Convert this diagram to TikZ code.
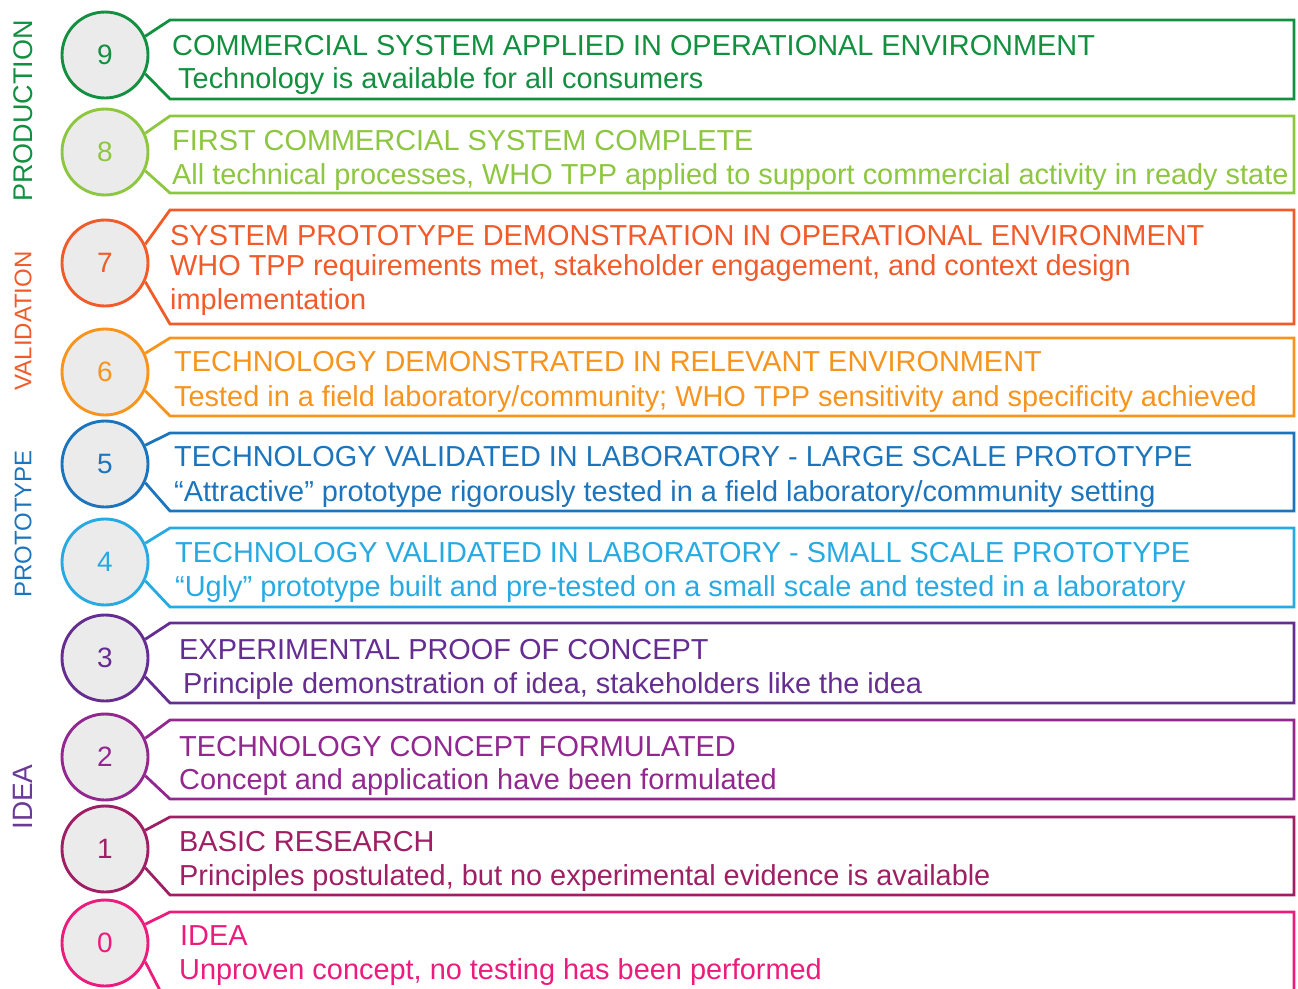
\documentclass[tikz,border=0pt]{standalone}
\usepackage{fontspec}
\setmainfont{Liberation Sans}
\definecolor{c9}{HTML}{12903F}
\definecolor{c8}{HTML}{8DC63F}
\definecolor{c7}{HTML}{F15A29}
\definecolor{c6}{HTML}{F7941D}
\definecolor{c5}{HTML}{1C75BC}
\definecolor{c4}{HTML}{27AAE1}
\definecolor{c3}{HTML}{662D91}
\definecolor{c2}{HTML}{92278F}
\definecolor{c1}{HTML}{9E1F63}
\definecolor{c0}{HTML}{EC1C7C}
\definecolor{cidea}{HTML}{6B3A96}
\definecolor{circfill}{HTML}{EBEBEB}
\begin{document}
\begin{tikzpicture}[x=1pt,y=-1pt,
  lvl/.style={circle, draw=#1, fill=circfill, line width=2.9pt, minimum size=86pt, inner sep=0pt, text=#1, font=\fontsize{28}{30}\selectfont},
  frame/.style={draw=#1, line width=2.8pt, line join=miter},
  txt/.style={anchor=base west, inner sep=0pt, text=#1, font=\fontsize{28.9}{34}\selectfont},
  side/.style={rotate=90, inner sep=0pt, text=#1}]
\useasboundingbox (0,0) rectangle (1298,988);

% circles
\node[lvl=c9] (n9) at (105,55) {9};
\node[lvl=c8] (n8) at (105,152) {8};
\node[lvl=c7] (n7) at (105,263) {7};
\node[lvl=c6] (n6) at (105,372) {6};
\node[lvl=c5] (n5) at (105,464) {5};
\node[lvl=c4] (n4) at (105,562) {4};
\node[lvl=c3] (n3) at (105,658) {3};
\node[lvl=c2] (n2) at (105,757) {2};
\node[lvl=c1] (n1) at (105,849) {1};
\node[lvl=c0] (n0) at (105,943) {0};

% frames
\draw[frame=c9] (n9.25) -- (170,20) -- (1294,20) -- (1294,99) -- (170,99) -- (n9.-25);
\draw[frame=c8] (n8.25) -- (170,116) -- (1294,116) -- (1294,193) -- (170,193) -- (n8.-25);
\draw[frame=c7] (n7.25) -- (170,210) -- (1294,210) -- (1294,324) -- (170,324) -- (n7.-25);
\draw[frame=c6] (n6.25) -- (170,338) -- (1294,338) -- (1294,416) -- (170,416) -- (n6.-25);
\draw[frame=c5] (n5.25) -- (170,433) -- (1294,433) -- (1294,511) -- (170,511) -- (n5.-25);
\draw[frame=c4] (n4.25) -- (170,528) -- (1294,528) -- (1294,607) -- (170,607) -- (n4.-25);
\draw[frame=c3] (n3.25) -- (170,623) -- (1294,623) -- (1294,703) -- (170,703) -- (n3.-25);
\draw[frame=c2] (n2.25) -- (170,720) -- (1294,720) -- (1294,799) -- (170,799) -- (n2.-25);
\draw[frame=c1] (n1.25) -- (170,817) -- (1294,817) -- (1294,895) -- (170,895) -- (n1.-25);
\draw[frame=c0] (n0.25) -- (170,912) -- (1294,912) -- (1294,1010) -- (170,1010) -- (n0.-25);

% texts
\node[txt=c9] (t9a) at (172,55) {COMMERCIAL SYSTEM APPLIED IN OPERATIONAL ENVIRONMENT};
\node[txt=c9] (t9b) at (178,88) {Technology is available for all consumers};
\node[txt=c8] (t8a) at (172,150) {FIRST COMMERCIAL SYSTEM COMPLETE};
\node[txt=c8] (t8b) at (172,184) {All technical processes, WHO TPP applied to support commercial activity in ready state};
\node[txt=c7] (t7a) at (170,245) {SYSTEM PROTOTYPE DEMONSTRATION IN OPERATIONAL ENVIRONMENT};
\node[txt=c7] (t7b) at (170,275) {WHO TPP requirements met, stakeholder engagement, and context design};
\node[txt=c7] (t7c) at (170,309) {implementation};
\node[txt=c6] (t6a) at (174,371) {TECHNOLOGY DEMONSTRATED IN RELEVANT ENVIRONMENT};
\node[txt=c6] (t6b) at (174,406) {Tested in a field laboratory/community; WHO TPP sensitivity and specificity achieved};
\node[txt=c5] (t5a) at (174,466) {TECHNOLOGY VALIDATED IN LABORATORY - LARGE SCALE PROTOTYPE};
\node[txt=c5] (t5b) at (174,501) {“Attractive” prototype rigorously tested in a field laboratory/community setting};
\node[txt=c4] (t4a) at (175,562) {TECHNOLOGY VALIDATED IN LABORATORY - SMALL SCALE PROTOTYPE};
\node[txt=c4] (t4b) at (175,596) {“Ugly” prototype built and pre-tested on a small scale and tested in a laboratory};
\node[txt=c3] (t3a) at (179,659) {EXPERIMENTAL PROOF OF CONCEPT};
\node[txt=c3] (t3b) at (183,693) {Principle demonstration of idea, stakeholders like the idea};
\node[txt=c2] (t2a) at (179,756) {TECHNOLOGY CONCEPT FORMULATED};
\node[txt=c2] (t2b) at (179,789) {Concept and application have been formulated};
\node[txt=c1] (t1a) at (179,851) {BASIC RESEARCH};
\node[txt=c1] (t1b) at (179,885) {Principles postulated, but no experimental evidence is available};
\node[txt=c0] (t0a) at (180,945) {IDEA};
\node[txt=c0] (t0b) at (179,979) {Unproven concept, no testing has been performed};

% side labels
\node[side=c9, font=\fontsize{27}{30}\selectfont] (sprod) at (23,111) {PRODUCTION};
\node[side=c7, font=\fontsize{24}{28}\selectfont] (sval) at (23,321) {VALIDATION};
\node[side=c5, font=\fontsize{24}{28}\selectfont] (sproto) at (23,524) {PROTOTYPE};
\node[side=cidea, font=\fontsize{28}{30}\selectfont] (sidea) at (23,797) {IDEA};
\end{tikzpicture}
\end{document}
